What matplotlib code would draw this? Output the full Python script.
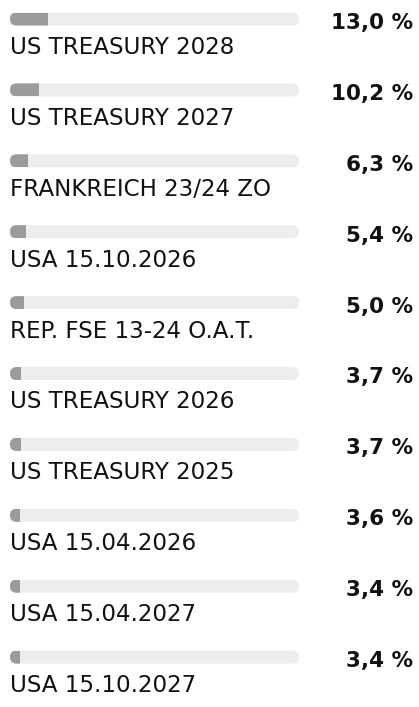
import matplotlib
matplotlib.use("Agg")
import matplotlib.pyplot as plt
from matplotlib.patches import FancyBboxPatch

# top holdings, share of fund in percent
names = [
    "US TREASURY 2028",
    "US TREASURY 2027",
    "FRANKREICH 23/24 ZO",
    "USA 15.10.2026",
    "REP. FSE 13-24 O.A.T.",
    "US TREASURY 2026",
    "US TREASURY 2025",
    "USA 15.04.2026",
    "USA 15.04.2027",
    "USA 15.10.2027",
]
shares = [13.0, 10.2, 6.3, 5.4, 5.0, 3.7, 3.7, 3.6, 3.4, 3.4]
value_labels = [f"{v:.1f} %".replace(".", ",") for v in shares]

W, H, DPI = 419, 707, 100
TRACK = "#ededed"
FILL = "#9b9b9b"
INK = "#111111"
BAR_PX = 13
PITCH = 70.9
TOP = 19.0

plt.rcParams["font.family"] = ["DejaVu Sans"]

fig = plt.figure(figsize=(W / DPI, H / DPI), dpi=DPI)
# axes spans the bar track horizontally, one unit per row vertically
left_px, right_px = 10, 299
y_top = -TOP / PITCH
y_bot = y_top + H / PITCH
ax = fig.add_axes([left_px / W, 0, (right_px - left_px) / W, 1])
ax.set_xlim(0, 100)
ax.set_ylim(y_bot, y_top)
ax.axis("off")

px_x = (right_px - left_px) / 100
h = BAR_PX / PITCH
r = (BAR_PX / 2) / px_x
value_x = 100 + (413 - right_px) / px_x

for i, (name, v, lab) in enumerate(zip(names, shares, value_labels)):
    track = FancyBboxPatch((0, i - h / 2), 100, h,
                           boxstyle=f"round,pad=0,rounding_size={r}",
                           mutation_aspect=px_x / PITCH,
                           facecolor=TRACK, edgecolor="none", zorder=1)
    ax.add_patch(track)
    bar = ax.barh(i, v, height=h, left=0, color=FILL, zorder=2)
    for b in bar:
        b.set_clip_path(track)
    ax.text(0, i + 35 / PITCH, name, fontsize=16.6, color=INK,
            ha="left", va="baseline", clip_on=False)
    ax.text(value_x, i + 10 / PITCH, lab, fontsize=15.5, fontweight="bold",
            color=INK, ha="right", va="baseline", clip_on=False)

fig.savefig("out.png", dpi=DPI, facecolor="white")
